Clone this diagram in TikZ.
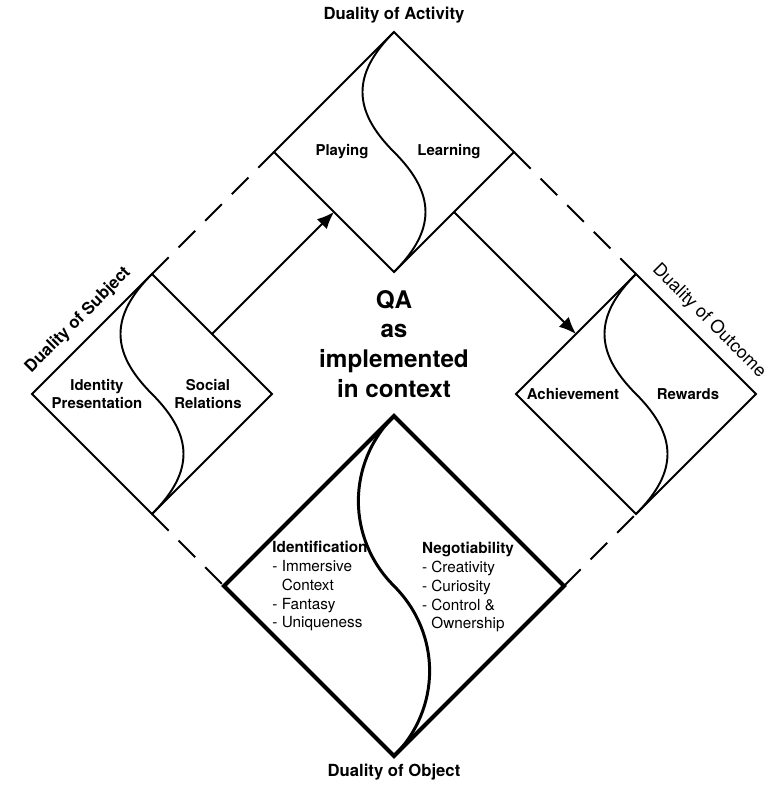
\documentclass[tikz,border=0pt]{standalone}
\usepackage{fontspec}
\setmainfont{TeX Gyre Heros}
\usepackage{xcolor}
\usepackage{tikz}
\usetikzlibrary{positioning}
\usetikzlibrary{arrows.meta, shapes.geometric, calc}

\tikzset{
    duality/.style={diamond, draw, aspect=1, inner sep=0pt, outer sep=0pt,
        minimum size=4.8cm, line width=1.1pt},
    frame/.style={line width=1.1pt, dash pattern=on 13.4pt off 8pt},
    flow/.style={line width=1.1pt, -{Latex[length=0.34cm, width=0.28cm]}},
    pole/.style={font=\fontsize{8.5}{10.8}\selectfont\bfseries, align=center},
    facet/.style={font=\fontsize{8.7}{10.8}\selectfont, align=left},
    heading/.style={font=\fontsize{9.5}{11}\selectfont\bfseries},
}

\newcommand{\swave}[3]{
    \draw[#3] (#1.north) .. controls +(-#2,-#2) and +(-#2,#2) .. (#1.center)
        .. controls +(#2,-#2) and +(#2,#2) .. (#1.south);
}

\begin{document}
\begin{tikzpicture}
        \useasboundingbox (-7.88,-7.82) rectangle (7.54,7.88);
        \begin{scope}
            \node[duality] (activity) at (0,4.84) {};
            \node[duality] (subject) at (-4.84,0) {};
            \node[duality] (outcome) at (4.84,0) {};
            \node[duality, minimum size=6.8cm, line width=2.3pt] (object) at (0,-3.84) {};
            \swave{activity}{0.84}{line width=1.1pt}
            \swave{subject}{0.84}{line width=1.1pt}
            \swave{outcome}{0.84}{line width=1.1pt}
            \swave{object}{0.95}{line width=1.7pt}
        \end{scope}
        \begin{scope}
            \draw[frame] (subject.north) -- (activity.west);
            \draw[frame] (activity.east) -- (outcome.north);
            \draw[frame] (subject.south) -- (object.west);
            \draw[frame] (object.east) -- (outcome.south);
            \draw[flow] (subject.north east) -- (activity.south west);
            \draw[flow] (activity.south east) -- (outcome.north west);
        \end{scope}
        \begin{scope}
            \node[pole] (playing) at (-1.04,4.84) {Playing};
            \node[pole] (learning) at (1.10,4.84) {Learning};
            \node[pole] (identity) at (-5.94,0) {Identity\\Presentation};
            \node[pole] (social) at (-3.72,0) {Social\\Relations};
            \node[pole] (achievement) at (3.58,0) {Achievement};
            \node[pole] (rewards) at (5.88,0) {Rewards};
            \node[facet] (identification) at (-1.48,-3.84) {
                \textbf{Identification}\\
                - Immersive\\
                \phantom{-~}Context\\
                - Fantasy\\
                - Uniqueness
            };
            \node[facet] (negotiability) at (1.48,-3.86) {
                \textbf{Negotiability}\\
                - Creativity\\
                - Curiosity\\
                - Control \&\\
                \phantom{-~}Ownership
            };
            \node[font=\fontsize{13.8}{17}\selectfont\bfseries, align=center] (qa) at (0,1.0)
                {QA\\as\\implemented\\in context};
        \end{scope}
        \begin{scope}
            \node[heading] (dualact) at (0,7.58) {Duality of Activity};
            \node[heading] (dualobj) at (0,-7.56) {Duality of Object};
            \path (subject.west) -- node[heading, sloped, above=3pt] (dualsubj) {Duality of Subject} (subject.north);
            \path (outcome.north) -- node[font=\fontsize{10.2}{12}\selectfont, sloped, above=2pt] (dualout) {Duality of Outcome} (outcome.east);
        \end{scope}
    \end{tikzpicture}
\end{document}
